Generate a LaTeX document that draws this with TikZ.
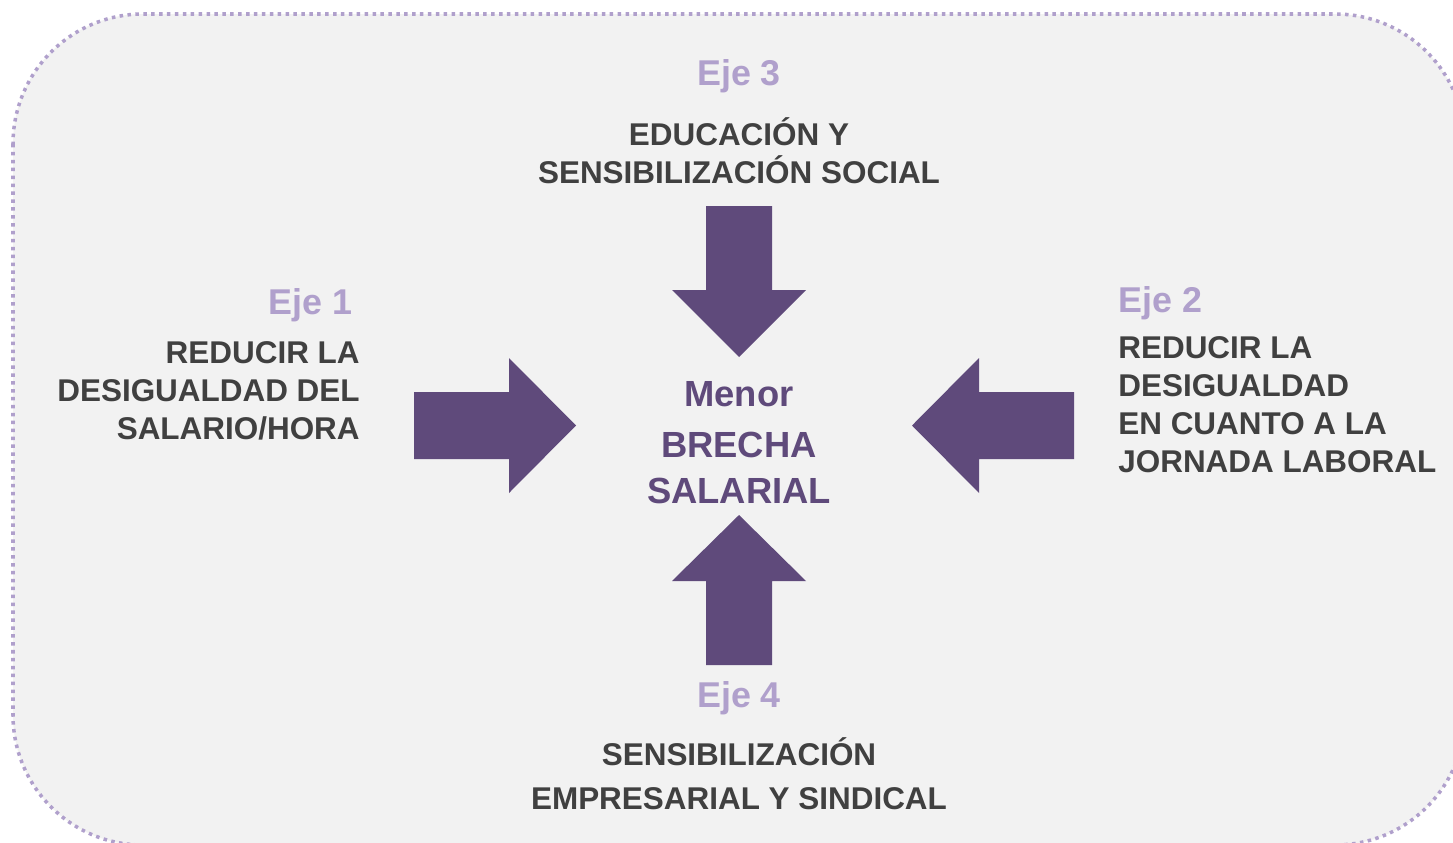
\documentclass[tikz,border=0pt]{standalone}
\usepackage{fontspec}
\setmainfont{Liberation Sans}
\usepackage{tikz}
\definecolor{fondo}{HTML}{F2F2F2}
\definecolor{lavanda}{HTML}{B0A0CC}
\definecolor{morado}{HTML}{5F4A7B}
\definecolor{gristexto}{HTML}{404040}
\tikzset{eje/.style = {font=\bfseries\fontsize{20.4}{24}\selectfont, text=lavanda, inner sep=0pt}}
\tikzset{texto/.style = {font=\bfseries\fontsize{17.9}{21.6}\selectfont, text=gristexto, inner sep=0pt}}
\tikzset{centro/.style = {font=\bfseries\fontsize{20.7}{26}\selectfont, text=morado, inner sep=0pt, align=center}}
\tikzset{flecha/.style = {draw=none, fill=morado}}
\tikzset{marco/.style = {draw=lavanda, fill=fondo, line width=2pt,
                         dash pattern=on 2pt off 2.5pt, rounded corners=2.6cm}}

\begin{document}
\begin{tikzpicture}[x=0.02cm, y=-0.02cm]
        \useasboundingbox (0,0) rectangle (1453,842);
        \clip (0,0) rectangle (1453,842);
        \fill[white] (0,0) rectangle (1453,842);
        \draw[marco] (13,14) rectangle (1465,845);
        % flechas
        \draw[flecha] (706,206) -- (772,206) -- (772,290) -- (806,290) -- (739,357) -- (672,290) -- (706,290) -- cycle;
        \draw[flecha] (414,392) -- (509,392) -- (509,358) -- (576,425.5) -- (509,493) -- (509,459) -- (414,459) -- cycle;
        \draw[flecha] (1074,392) -- (979,392) -- (979,358) -- (912,425.5) -- (979,493) -- (979,459) -- (1074,459) -- cycle;
        \draw[flecha] (706,665) -- (772,665) -- (772,581) -- (806,581) -- (739,515) -- (672,581) -- (706,581) -- cycle;
        % textos (base = ultima linea)
        \draw (739,503) node[centro, anchor=base] (brecha) {Menor\\[3pt]BRECHA\\SALARIAL};
        \draw (739,85) node[eje, anchor=base] (eje3) {Eje 3};
        \draw (739,183) node[texto, anchor=base, align=center] (texto3) {EDUCACIÓN Y\\SENSIBILIZACIÓN SOCIAL};
        \draw (353,314) node[eje, anchor=base east] (eje1) {Eje 1};
        \draw (360,439) node[texto, anchor=base east, align=right] (texto1) {REDUCIR LA\\DESIGUALDAD DEL\\SALARIO/HORA};
        \draw (1118,312) node[eje, anchor=base west] (eje2) {Eje 2};
        \draw (1118,472) node[texto, anchor=base west, align=left] (texto2) {REDUCIR LA\\DESIGUALDAD\\EN CUANTO A LA\\JORNADA LABORAL};
        \draw (739,707) node[eje, anchor=base] (eje4) {Eje 4};
        \draw (739,809) node[texto, anchor=base, align=center] (texto4) {SENSIBILIZACIÓN\\[3.2pt]EMPRESARIAL Y SINDICAL};
    \end{tikzpicture}
\end{document}
